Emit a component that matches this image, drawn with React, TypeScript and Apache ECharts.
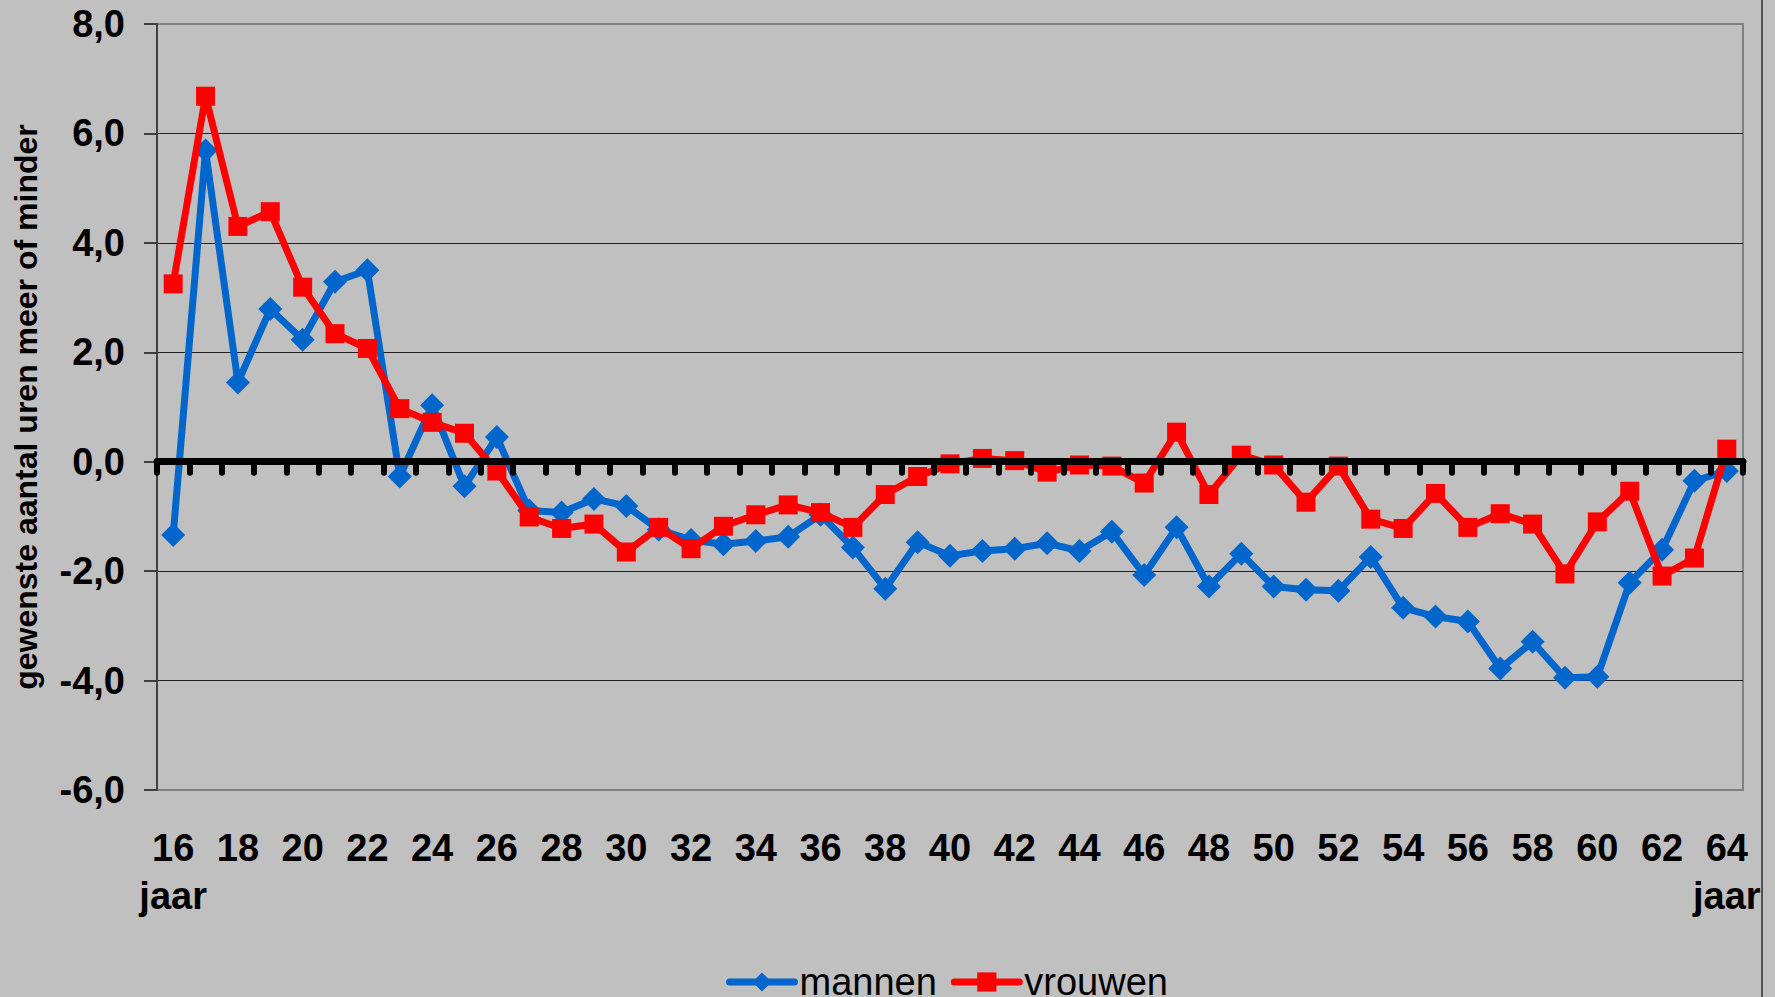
import React, { useEffect, useRef } from "react";
import * as echarts from "echarts";

const ages: string[] = [
  "16","17","18","19","20","21","22","23","24","25","26","27","28","29","30","31","32",
  "33","34","35","36","37","38","39","40","41","42","43","44","45","46","47","48",
  "49","50","51","52","53","54","55","56","57","58","59","60","61","62","63","64",
];

const mannen: number[] = [
  -1.34, 5.69, 1.45, 2.79, 2.23, 3.29, 3.5, -0.27, 1.03, -0.45, 0.45, -0.89, -0.93,
  -0.68, -0.81, -1.24, -1.43, -1.51, -1.45, -1.37, -0.97, -1.57, -2.32, -1.47, -1.72,
  -1.63, -1.59, -1.49, -1.63, -1.28, -2.07, -1.2, -2.28, -1.68, -2.28, -2.34, -2.36,
  -1.74, -2.67, -2.83, -2.92, -3.78, -3.29, -3.95, -3.93, -2.21, -1.61, -0.35, -0.17,
];

const vrouwen: number[] = [
  3.25, 6.68, 4.3, 4.57, 3.19, 2.34, 2.07, 0.97, 0.72, 0.52, -0.17, -1.01, -1.22,
  -1.14, -1.65, -1.2, -1.59, -1.18, -0.97, -0.79, -0.93, -1.2, -0.6, -0.27, -0.04,
  0.06, 0.02, -0.19, -0.06, -0.08, -0.39, 0.54, -0.6, 0.12, -0.06, -0.74, -0.08,
  -1.05, -1.22, -0.58, -1.2, -0.95, -1.14, -2.05, -1.1, -0.54, -2.09, -1.76, 0.23,
];

const yTitle = "gewenste aantal uren meer of minder";
const ageUnit = "jaar";
const seriesNames = ["mannen", "vrouwen"];

const FONT = "'Liberation Sans', Arial, sans-serif";

export default function App() {
  const ref = useRef<HTMLDivElement>(null);
  useEffect(() => {
    if (!ref.current) return;
    const chart = echarts.init(ref.current, null, { renderer: "svg" });
    const first = ages[0];
    const last = ages[ages.length - 1];
    chart.setOption({
      animation: false,
      backgroundColor: "#C0C0C0",
      textStyle: { fontFamily: FONT },
      grid: {
        left: 157,
        right: 32,
        top: 24,
        bottom: 207,
        containLabel: false,
        outerBoundsMode: "none",
        show: true,
        borderColor: "#808080",
        borderWidth: 2,
        backgroundColor: "#C0C0C0",
      },
      graphic: [
        {
          type: "line",
          shape: { x1: 1762, y1: 0, x2: 1762, y2: 997 },
          style: { stroke: "#505050", lineWidth: 2 },
          silent: true,
        },
      ],
      legend: {
        left: 721,
        top: 957,
        itemWidth: 65,
        itemHeight: 24,
        itemGap: 14,
        lineStyle: { width: 7, cap: "round" },
        textStyle: {
          fontSize: 38,
          lineHeight: 40,
          color: "#000",
          fontFamily: FONT,
        },
        data: seriesNames,
      },
      xAxis: [
        {
          type: "category",
          data: ages,
          boundaryGap: true,
          position: "bottom",
          axisLine: { onZero: true, lineStyle: { color: "#000", width: 7 } },
          axisTick: { show: true, length: 11, lineStyle: { color: "#000", width: 6, cap: "round" } },
          axisLabel: { show: false },
          splitLine: { show: false },
          z: 5,
        },
        {
          type: "category",
          data: ages,
          boundaryGap: true,
          position: "bottom",
          axisLine: { show: false, onZero: false },
          axisTick: { show: false },
          axisLabel: {
            interval: 1,
            margin: 34,
            fontSize: 38,
            fontWeight: "bold",
            color: "#000",
            fontFamily: FONT,
            lineHeight: 48,
            formatter: (v: string) => (v === first || v === last ? v + "\n" + ageUnit : v),
          },
          splitLine: { show: false },
        },
      ],
      yAxis: {
        type: "value",
        min: -6,
        max: 8,
        interval: 2,
        name: yTitle,
        nameLocation: "middle",
        nameGap: 115,
        nameRotate: 90,
        nameTextStyle: { fontSize: 32, fontWeight: "bold", color: "#000", fontFamily: FONT },
        axisLine: { show: true, lineStyle: { color: "#404040", width: 2 } },
        axisTick: { show: true, length: 13, lineStyle: { color: "#404040", width: 2 } },
        axisLabel: {
          margin: 32,
          fontSize: 38,
          fontWeight: "bold",
          color: "#000",
          fontFamily: FONT,
          formatter: (v: number) => v.toFixed(1).replace(".", ","),
        },
        splitLine: {
          show: true,
          showMinLine: false,
          showMaxLine: false,
          lineStyle: { color: "#202020", width: 1 },
        },
      },
      series: [
        {
          name: seriesNames[0],
          type: "line",
          data: mannen,
          xAxisIndex: 0,
          symbol: "diamond",
          symbolSize: 24,
          showAllSymbol: true,
          lineStyle: { color: "#0066CC", width: 7 },
          itemStyle: { color: "#0066CC" },
          z: 3,
        },
        {
          name: seriesNames[1],
          type: "line",
          data: vrouwen,
          xAxisIndex: 0,
          symbol: "rect",
          symbolSize: 19,
          showAllSymbol: true,
          lineStyle: { color: "#FF0000", width: 7 },
          itemStyle: { color: "#FF0000" },
          z: 4,
        },
      ],
    });
    return () => chart.dispose();
  }, []);
  return (
    <div
      ref={ref}
      style={{ position: "absolute", left: 0, top: 0, width: 1775, height: 997, background: "#C0C0C0" }}
    />
  );
}
